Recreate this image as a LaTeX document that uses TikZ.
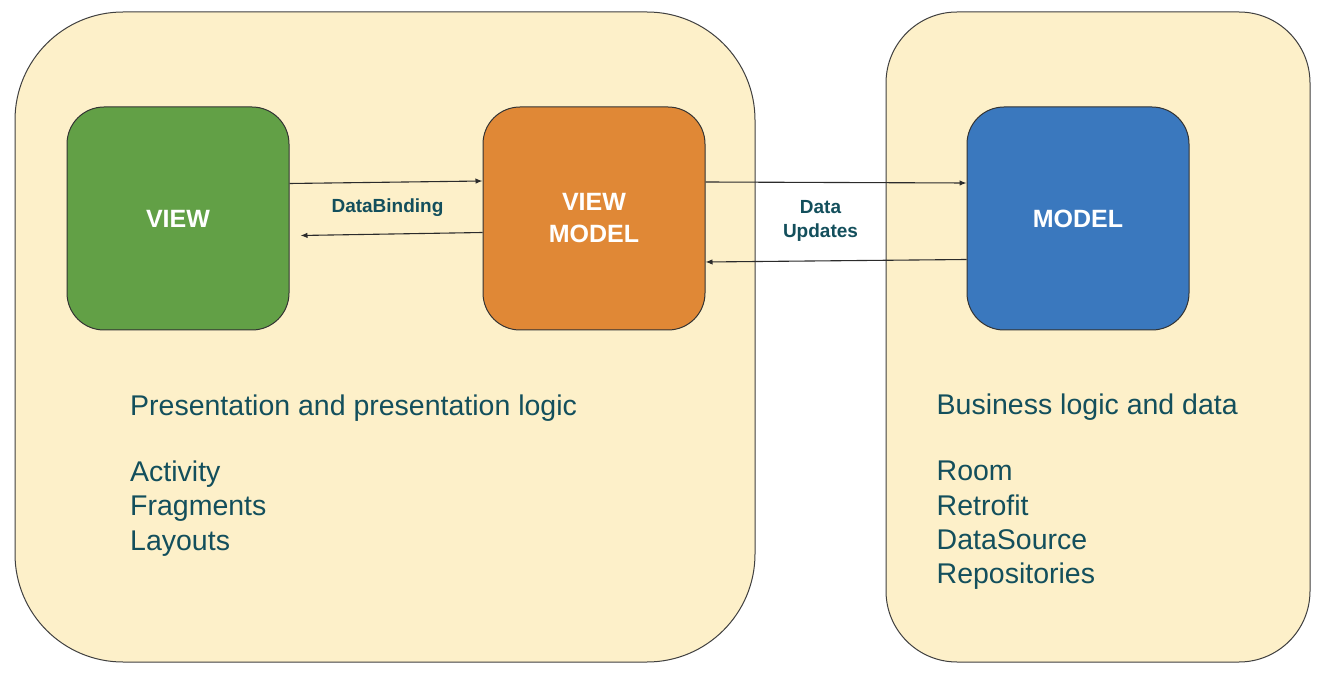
\documentclass[tikz,border=0pt]{standalone}
\usepackage{fontspec}
\setmainfont{Liberation Sans}
\usetikzlibrary{arrows.meta}
\definecolor{panelfill}{HTML}{FDF0C9}
\definecolor{viewgreen}{HTML}{62A046}
\definecolor{vmorange}{HTML}{E08836}
\definecolor{modelblue}{HTML}{3A78BE}
\definecolor{tealtext}{HTML}{134F5C}
\definecolor{arrowgray}{HTML}{2B2B2B}
\tikzset{
  panel/.style={draw=black!75, line width=1pt, fill=panelfill, inner sep=0pt},
  compbox/.style={draw=black!80, line width=1pt, minimum width=222pt, minimum height=223pt,
    inner sep=0pt, rounded corners=37pt, text=white, align=center,
    font=\fontsize{25}{32}\selectfont\bfseries},
  flow/.style={draw=arrowgray, line width=1.1pt, -{Latex[length=7pt,width=5.5pt]}},
  flowlabel/.style={text=tealtext, font=\fontsize{19}{23.5}\selectfont\bfseries, inner sep=0pt},
  bodytext/.style={text=tealtext, font=\fontsize{28.5}{34.5}\selectfont, inner sep=0pt, anchor=base west}
}
\begin{document}
\begin{tikzpicture}[x=1pt,y=-1pt]
\useasboundingbox (0,0) rectangle (1322,684);
\fill[white] (0,0) rectangle (1322,684);
% panels
\node[panel, minimum width=740pt, minimum height=650pt, rounded corners=108pt] (left) at (385,337) {};
\node[panel, minimum width=424pt, minimum height=650pt, rounded corners=71pt] (right) at (1098,337) {};
% components
\node[compbox, fill=viewgreen] (view) at (178,218.5) {VIEW};
\node[compbox, fill=vmorange] (vm) at (594,218.5) {VIEW\\MODEL};
\node[compbox, fill=modelblue] (model) at (1078,218.5) {MODEL};
% connectors
\draw[flow] ([yshift=35pt]view.east) -- ([yshift=37.5pt]vm.west);
\draw[flow] ([yshift=-14pt]vm.west) -- ([xshift=11pt,yshift=-17pt]view.east);
\draw[flow] ([yshift=36.5pt]vm.east) -- ([yshift=35.5pt]model.west);
\draw[flow] ([yshift=-41pt]model.west) -- ([yshift=-43.5pt]vm.east);
% connector labels
\node[flowlabel, anchor=base] (dblabel) at (387.5,213) {DataBinding};
\node[flowlabel, anchor=base] (dulabel1) at (820.5,214) {Data};
\node[flowlabel, anchor=base] (dulabel2) at (820.5,237.5) {Updates};
% left text
\node[bodytext] (ltitle) at (130,415) {Presentation and presentation logic};
\node[bodytext] (l1) at (130,481) {Activity};
\node[bodytext] (l2) at (130,515.5) {Fragments};
\node[bodytext] (l3) at (130,550) {Layouts};
% right text
\node[bodytext] (rtitle) at (936.5,414) {Business logic and data};
\node[bodytext] (r1) at (936.5,480.5) {Room};
\node[bodytext] (r2) at (936.5,515) {Retrofit};
\node[bodytext] (r3) at (936.5,549) {DataSource};
\node[bodytext] (r4) at (936.5,583.5) {Repositories};
\end{tikzpicture}
\end{document}
